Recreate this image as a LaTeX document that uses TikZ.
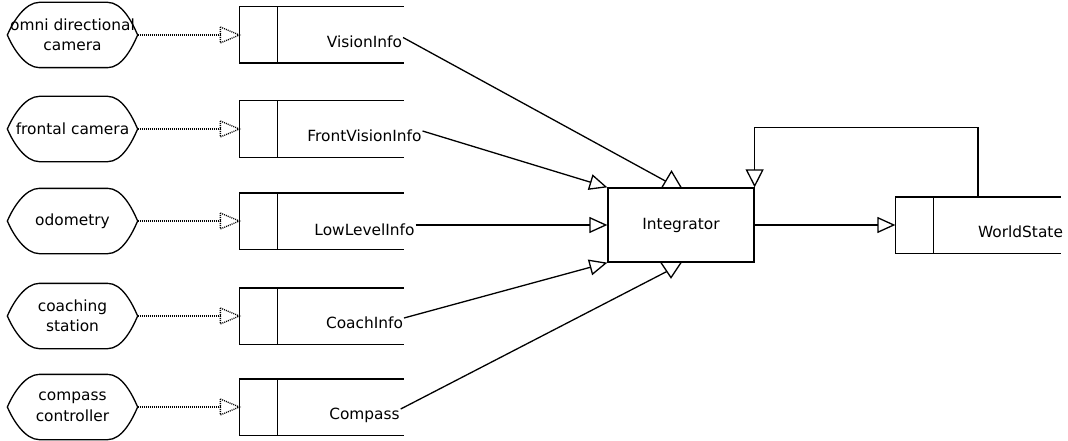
\documentclass[tikz,border=0pt]{standalone}
\usepackage{fontspec}
\setmainfont{DejaVu Sans}
\usetikzlibrary{arrows.meta,calc}

\newcommand\drawhex[1]{%
  \draw ($(#1.north west)+(32,0)$) -- ($(#1.north east)+(-30,0)$)
    .. controls ($(#1.north east)+(-16,0)$) and ($(#1.east)+(-6,-14)$) .. (#1.east)
    .. controls ($(#1.east)+(-6,14)$) and ($(#1.south east)+(-16,0)$) .. ($(#1.south east)+(-30,0)$)
    -- ($(#1.south west)+(32,0)$)
    .. controls ($(#1.south west)+(18,0)$) and ($(#1.west)+(6,14)$) .. (#1.west)
    .. controls ($(#1.west)+(6,-14)$) and ($(#1.north west)+(18,0)$) .. cycle;}
\newcommand\drawstore[1]{%
  \draw (#1.north east) -- (#1.north west) -- (#1.south west) -- (#1.south east);
  \draw ($(#1.north west)+(38,0)$) -- ($(#1.south west)+(38,0)$);}
\newcommand\flowin[2]{%
  \draw[dots] (#1.east) -- ($(#2.west)+(-19,0)$);
  \draw[dots] ($(#2.west)+(-19,-8)$) -- (#2.west) -- ($(#2.west)+(-19,8)$) -- cycle;}

\begin{document}
\begin{tikzpicture}[x=1pt,y=-1pt,
  line width=1.3pt,
  every node/.style={font=\fontsize{15.4}{20.5}\selectfont},
  hexa/.style={minimum width=129pt,minimum height=64pt,inner sep=0pt,align=center},
  store/.style={minimum width=163pt,minimum height=55pt,inner sep=0pt},
  lbl/.style={inner sep=0pt,outer xsep=1pt,anchor=base,text height=21pt,text depth=0pt},
  proc/.style={draw,minimum width=146pt,minimum height=74pt,inner sep=0pt},
  tip/.style={-{Triangle[open,length=18pt,width=16pt]}},
  dots/.style={dash pattern=on 1pt off 1pt,line width=1.3pt},
]
\useasboundingbox (0,0) rectangle (1068,441);

% sources
\node[hexa] (h1) at (72.5,35)  {omni directional\\camera};
\node[hexa] (h2) at (72.5,129) {frontal camera};
\node[hexa] (h3) at (72.5,221) {odometry};
\node[hexa] (h4) at (72.5,316) {coaching\\station};
\node[hexa] (h5) at (72.5,407) {compass\\controller};
\foreach \n in {h1,h2,h3,h4,h5} {\drawhex{\n}}

% stores
\node[store] (s1) at (321.5,35)  {};
\node[store] (s2) at (321.5,129) {};
\node[store] (s3) at (321.5,221) {};
\node[store] (s4) at (321.5,316) {};
\node[store] (s5) at (321.5,407) {};
\foreach \n in {s1,s2,s3,s4,s5} {\drawstore{\n}}

\node[lbl] (l1) at (364.5,48)    {VisionInfo};
\node[lbl] (l2) at (364.5,141.5) {FrontVisionInfo};
\node[lbl] (l3) at (364.5,235)   {LowLevelInfo};
\node[lbl] (l4) at (364.5,328.5) {CoachInfo};
\node[lbl] (l5) at (364.5,419.5) {Compass};

\flowin{h1}{s1}
\flowin{h2}{s2}
\flowin{h3}{s3}
\flowin{h4}{s4}
\flowin{h5}{s5}

% integrator
\node[proc] (integ) at (681,225) {Integrator};

% world state
\node[store,minimum width=164pt] (ws) at (978,225) {};
\drawstore{ws}
\node[lbl] (lw) at (1020.5,237) {WorldState};

% triangles on top and bottom of integrator
\coordinate (vtop) at ($(integ.north)+(-15,-6)$);
\coordinate (vbot) at ($(integ.south)+(-14.5,9)$);
\draw ($(integ.north)+(-19,0)$) -- ($(integ.north)+(-9.5,-16)$) -- (integ.north);
\draw ($(integ.south)+(-20,0)$) -- ($(integ.south)+(-10,15)$) -- (integ.south);

% connectors
\draw (l1.east) -- (vtop);
\draw[tip] (l2.east) -- (integ.north west);
\draw[tip] (l3.east |- integ.west) -- (integ.west);
\draw[tip] (l4.east) -- (integ.south west);
\draw (l5.east) -- (vbot);
\draw[tip] (integ.east) -- (ws.west);
\draw[-{Triangle[open,length=18pt,width=18pt]}] (ws.north) -- ++(0,-69) -| (integ.north east);
\end{tikzpicture}
\end{document}
